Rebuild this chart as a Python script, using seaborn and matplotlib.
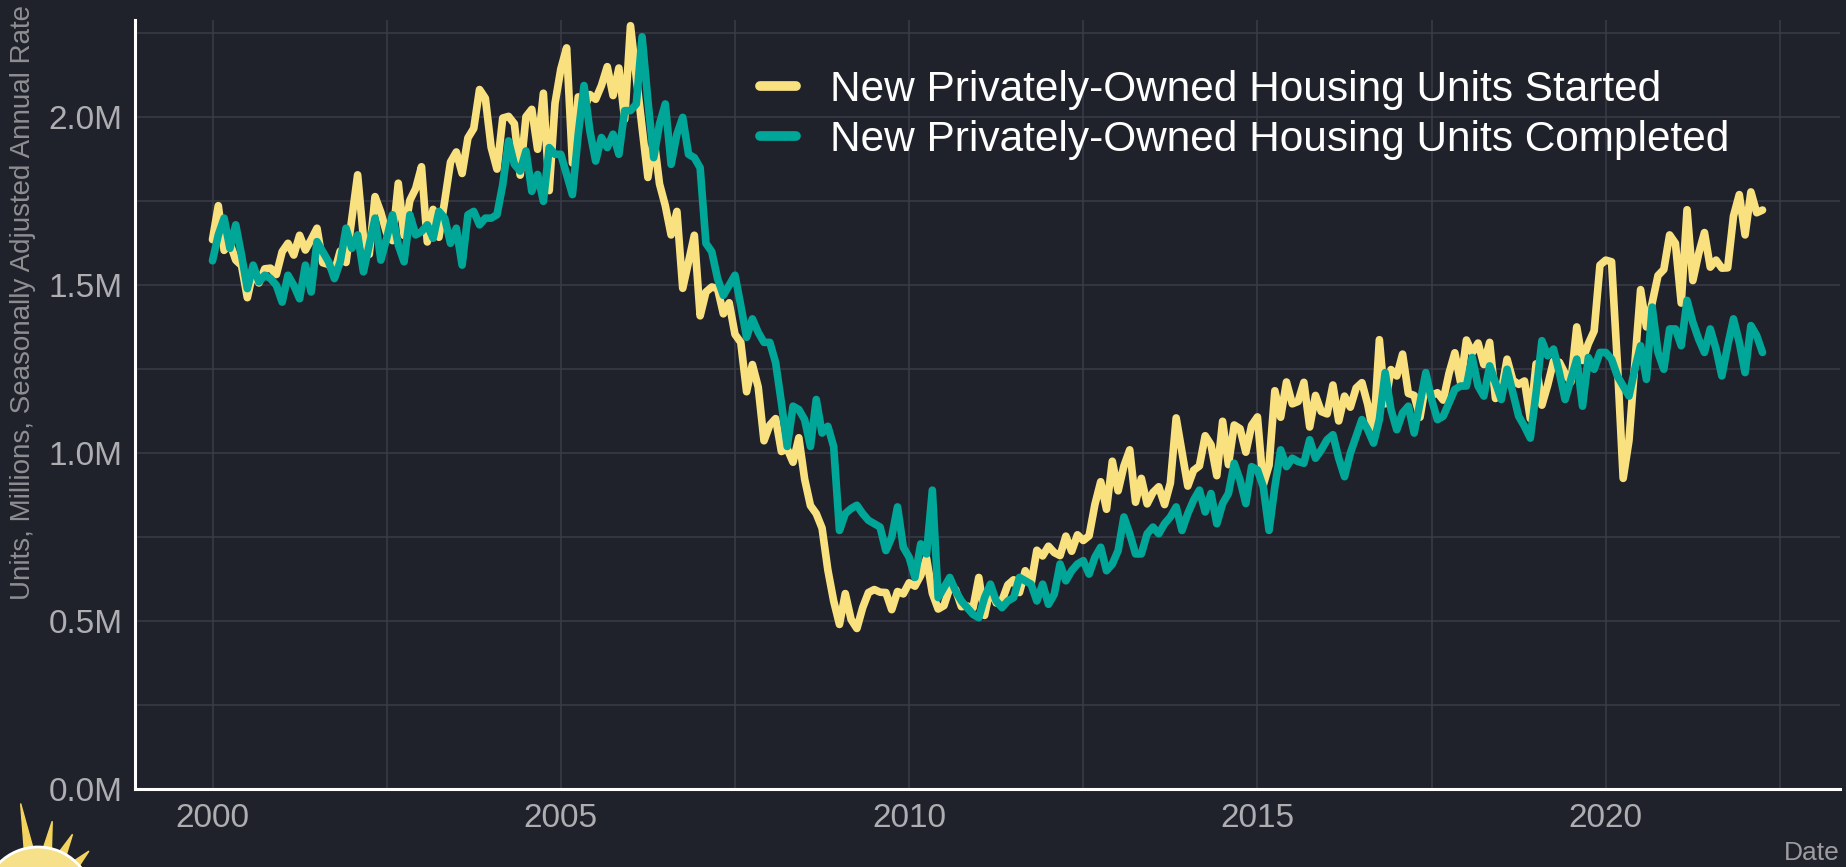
import matplotlib
matplotlib.use("Agg")

import matplotlib.pyplot as plt
import numpy as np
import pandas as pd
import seaborn as sns
from matplotlib.patches import Circle, Polygon, Wedge
from matplotlib.ticker import FixedLocator, FuncFormatter

# ── Data (thousands of units, SAAR, monthly from Jan 2000) ─────────────────────
months = pd.date_range("2000-01-01", periods=268, freq="MS")

starts_k = [
    1636, 1737, 1604, 1626, 1575, 1559, 1463, 1541, 1507, 1549, 1551, 1532,
    1600, 1625, 1590, 1649, 1605, 1636, 1670, 1567, 1562, 1540, 1602, 1568,
    1698, 1829, 1642, 1592, 1764, 1717, 1655, 1633, 1804, 1648, 1753, 1788,
    1853, 1629, 1726, 1643, 1751, 1867, 1897, 1833, 1939, 1967, 2083, 2057,
    1911, 1846, 1998, 2003, 1981, 1828, 2002, 2024, 1905, 2072, 1782, 2042,
    2144, 2207, 1864, 2061, 2025, 2068, 2054, 2095, 2151, 2065, 2147, 1994,
    2273, 2119, 1969, 1821, 1942, 1802, 1737, 1650, 1720, 1491, 1570, 1649,
    1409, 1480, 1495, 1490, 1415, 1448, 1354, 1330, 1183, 1264, 1197, 1037,
    1084, 1103, 1005, 1013, 973, 1046, 923, 844, 820, 777, 652, 560,
    490, 582, 505, 478, 540, 585, 594, 586, 585, 534, 588, 581,
    614, 604, 636, 687, 583, 536, 546, 599, 594, 543, 545, 539,
    630, 517, 600, 554, 561, 608, 623, 585, 650, 610, 711, 694,
    723, 704, 695, 753, 708, 757, 740, 754, 847, 915, 833, 976,
    888, 962, 1010, 854, 925, 849, 883, 900, 847, 911, 1105, 1003,
    902, 949, 962, 1052, 1025, 933, 1095, 966, 1084, 1073, 1003, 1083,
    1108, 905, 964, 1186, 1107, 1212, 1147, 1154, 1211, 1078, 1172, 1124,
    1117, 1203, 1096, 1170, 1137, 1194, 1210, 1145, 1055, 1338, 1147, 1249,
    1230, 1295, 1178, 1172, 1107, 1208, 1172, 1180, 1158, 1238, 1299, 1210,
    1337, 1299, 1328, 1264, 1330, 1163, 1184, 1280, 1217, 1205, 1215, 1103,
    1266, 1143, 1203, 1274, 1271, 1237, 1212, 1376, 1276, 1326, 1364, 1560,
    1575, 1570, 1268, 925, 1038, 1265, 1487, 1376, 1448, 1529, 1547, 1650,
    1625, 1447, 1725, 1514, 1594, 1657, 1554, 1575, 1551, 1552, 1706, 1770,
    1650, 1778, 1716, 1724,
]

completed_k = [
    1573, 1650, 1700, 1610, 1680, 1590, 1490, 1560, 1510, 1530, 1520, 1500,
    1450, 1530, 1500, 1460, 1560, 1480, 1630, 1600, 1570, 1520, 1570, 1670,
    1610, 1650, 1540, 1620, 1700, 1575, 1640, 1710, 1620, 1570, 1710, 1650,
    1660, 1680, 1640, 1720, 1700, 1625, 1670, 1560, 1710, 1720, 1680, 1700,
    1700, 1710, 1800, 1930, 1860, 1840, 1900, 1780, 1830, 1750, 1910, 1890,
    1890, 1830, 1770, 1950, 2095, 1960, 1870, 1940, 1910, 1950, 1890, 2020,
    2020, 2040, 2240, 2050, 1880, 1980, 2040, 1860, 1950, 2000, 1890, 1880,
    1850, 1625, 1600, 1520, 1470, 1500, 1530, 1440, 1345, 1400, 1360, 1330,
    1330, 1270, 1150, 1020, 1140, 1130, 1100, 1020, 1160, 1060, 1080, 1020,
    770, 820, 835, 845, 820, 800, 790, 780, 710, 750, 840, 720,
    690, 630, 730, 700, 890, 570, 600, 630, 590, 560, 540, 520,
    510, 570, 610, 560, 540, 560, 570, 630, 620, 610, 560, 610,
    550, 580, 670, 620, 650, 670, 680, 640, 690, 720, 650, 670,
    710, 810, 760, 700, 700, 760, 780, 760, 790, 810, 840, 770,
    820, 860, 890, 825, 880, 790, 850, 880, 970, 920, 850, 960,
    950, 900, 770, 900, 1010, 960, 985, 975, 970, 1040, 985, 1010,
    1040, 1055, 985, 930, 1000, 1050, 1100, 1070, 1030, 1100, 1240, 1130,
    1070, 1120, 1140, 1060, 1150, 1240, 1160, 1100, 1110, 1150, 1190, 1200,
    1200, 1285, 1200, 1170, 1260, 1210, 1160, 1250, 1180, 1110, 1080, 1045,
    1180, 1335, 1290, 1310, 1240, 1160, 1220, 1280, 1140, 1285, 1250, 1300,
    1300, 1280, 1230, 1200, 1170, 1250, 1320, 1220, 1435, 1300, 1250, 1370,
    1370, 1320, 1455, 1390, 1340, 1300, 1370, 1310, 1230, 1320, 1400, 1330,
    1240, 1380, 1350, 1300,
]

series_names = [
    "New Privately-Owned Housing Units Started",
    "New Privately-Owned Housing Units Completed",
]
series_colors = ["#FAE17F", "#00A698"]

x_major = [2000, 2005, 2010, 2015, 2020]
x_minor = [2002.5, 2007.5, 2012.5, 2017.5, 2022.5]
y_major = [0.0, 0.5, 1.0, 1.5, 2.0]
y_minor = [0.25, 0.75, 1.25, 1.75, 2.25]

# ── Long table for seaborn ────────────────────────────────────────────────────
year_frac = months.year + (months.month - 1) / 12
df = pd.concat([
    pd.DataFrame({"year": year_frac, "value": np.array(starts_k) / 1000, "series": series_names[0]}),
    pd.DataFrame({"year": year_frac, "value": np.array(completed_k) / 1000, "series": series_names[1]}),
])

# ── Style ─────────────────────────────────────────────────────────────────────
BG = "#1F222A"
GRID = "#3A3D47"
sns.set_theme(style="dark", rc={
    "figure.facecolor": BG,
    "axes.facecolor": BG,
    "savefig.facecolor": BG,
})
plt.rcParams["font.family"] = ["Liberation Sans", "DejaVu Sans"]

fig = plt.figure(figsize=(18.46, 8.67), dpi=100)
ax = fig.add_axes([135 / 1846, 78 / 867, (1840 - 135) / 1846, (789 - 20) / 867])

sns.lineplot(
    data=df, x="year", y="value", hue="series", hue_order=series_names,
    palette=dict(zip(series_names, series_colors)), linewidth=5.5, ax=ax,
)

# span: ggplot-like 5% padding on x, none below 0 on y
x0, x1 = year_frac.min(), year_frac.max()
pad = (x1 - x0) * 0.05
ax.set_xlim(x0 - pad, x1 + pad)
ax.set_ylim(0, 2.29)

ax.xaxis.set_major_locator(FixedLocator(x_major))
ax.xaxis.set_minor_locator(FixedLocator(x_minor))
ax.yaxis.set_major_locator(FixedLocator(y_major))
ax.yaxis.set_minor_locator(FixedLocator(y_minor))
ax.xaxis.set_major_formatter(FuncFormatter(lambda v, _: f"{int(v)}"))
ax.yaxis.set_major_formatter(FuncFormatter(lambda v, _: f"{v:.1f}M"))

ax.grid(True, which="both", color=GRID, linewidth=1.1)
ax.set_axisbelow(True)
ax.tick_params(axis="both", which="both", length=0, labelsize=24, colors="#ADADB2")
ax.tick_params(axis="x", pad=10)
ax.tick_params(axis="y", pad=9)

for side in ["top", "right"]:
    ax.spines[side].set_visible(False)
for side in ["left", "bottom"]:
    ax.spines[side].set_visible(True)
    ax.spines[side].set_color("white")
    ax.spines[side].set_linewidth(2.2)

ax.set_xlabel("")
ax.set_ylabel("")

handles, labels = ax.get_legend_handles_labels()
leg = ax.legend(
    handles, labels, loc="upper left", bbox_to_anchor=(722 / 1846, 1 - 32 / 867),
    bbox_transform=fig.transFigure, frameon=False, fontsize=30.5,
    handlelength=0.85, handletextpad=0.8, labelspacing=0.24,
)
for line in leg.get_lines():
    line.set_linewidth(7)
for txt in leg.get_texts():
    txt.set_color("white")

fig.text(23 / 1846, 1 - 303 / 867, "Units, Millions, Seasonally Adjusted Annual Rate",
         rotation=90, ha="center", va="center", fontsize=20, color="#8E8E93")
fig.text(1840 / 1846, 1 - 853 / 867, "Date", ha="right", va="center",
         fontsize=19, color="#9C9CA1")

# ── Corner logo (decorative sun) ──────────────────────────────────────────────
lax = fig.add_axes([0, 0, 110 / 1846, 67 / 867])
lax.set_xlim(0, 110)
lax.set_ylim(67, 0)
lax.axis("off")
lax.add_patch(Wedge((38, 102), 62, 95, 180, width=10, color="#00A698"))
for ang, length in [(100, 100), (80, 82), (63, 76), (45, 72), (28, 66)]:
    a = np.deg2rad(ang)
    cx, cy = 38, 102
    base = 48
    w = np.deg2rad(6)
    pts = [
        (cx + base * np.cos(a - w), cy - base * np.sin(a - w)),
        (cx + length * np.cos(a), cy - length * np.sin(a)),
        (cx + base * np.cos(a + w), cy - base * np.sin(a + w)),
    ]
    lax.add_patch(Polygon(pts, closed=True, color="#F4D35E"))
lax.add_patch(Circle((38, 102), 55, facecolor="#F7E08A", edgecolor="white", linewidth=2))

fig.savefig("out.png", dpi=100, facecolor=BG)
